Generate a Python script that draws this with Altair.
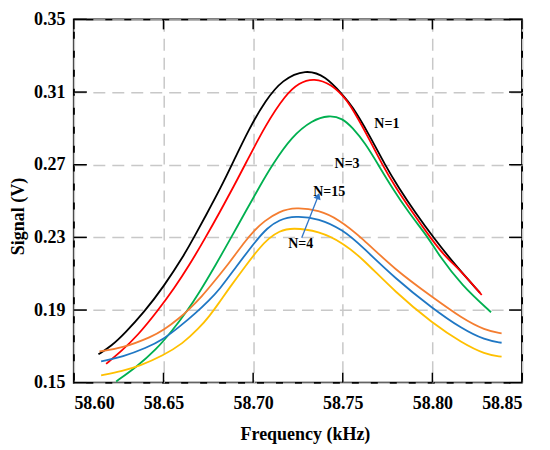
import altair as alt
import pandas as pd

# ---------------- data ----------------
x_ticks = [58.60, 58.65, 58.70, 58.75, 58.80, 58.85]
y_ticks = [0.15, 0.19, 0.23, 0.27, 0.31, 0.35]

series_names = ["black", "red", "green", "orange", "blue", "yellow"]
series_colors = ["#000000", "#FF0000", "#00B050", "#F47D30", "#1F77C4", "#FFC000"]

black_freq = [58.6137, 58.6210, 58.6282, 58.6393, 58.6499, 58.6616, 58.6671, 58.6736, 58.6820,
              58.6884, 58.6977, 58.7070, 58.7162, 58.7293, 58.7404, 58.7500, 58.7550, 58.7645,
              58.7737, 58.7811, 58.7904, 58.8006, 58.8127, 58.8266]
black_sig = [0.1656, 0.1703, 0.1770, 0.1890, 0.2026, 0.2204, 0.2302, 0.2420, 0.2575,
             0.2705, 0.2898, 0.3055, 0.3168, 0.3226, 0.3188, 0.3084, 0.3027, 0.2870,
             0.2696, 0.2575, 0.2437, 0.2298, 0.2148, 0.1994]

red_freq = [58.6180, 58.6265, 58.6356, 58.6467, 58.6560, 58.6643, 58.6736, 58.6810, 58.6894,
            58.6955, 58.7070, 58.7181, 58.7255, 58.7339, 58.7441, 58.7500, 58.7533, 58.7633,
            58.7722, 58.7795, 58.7889, 58.7989, 58.8062, 58.8164, 58.8275]
red_sig = [0.1604, 0.1674, 0.1760, 0.1895, 0.2020, 0.2145, 0.2302, 0.2432, 0.2585,
           0.2700, 0.2920, 0.3085, 0.3150, 0.3178, 0.3140, 0.3078, 0.3043, 0.2870,
           0.2696, 0.2575, 0.2437, 0.2298, 0.2204, 0.2110, 0.1983]

green_freq = [58.6236, 58.6347, 58.6458, 58.6551, 58.6625, 58.6699, 58.6792, 58.6875, 58.6959,
              58.7042, 58.7107, 58.7218, 58.7329, 58.7422, 58.7500, 58.7552, 58.7626, 58.7700,
              58.7774, 58.7867, 58.7978, 58.8034, 58.8164, 58.8327]
green_sig = [0.1507, 0.1585, 0.1681, 0.1790, 0.1885, 0.1995, 0.2150, 0.2295, 0.2445,
             0.2590, 0.2700, 0.2858, 0.2945, 0.2973, 0.2955, 0.2906, 0.2818, 0.2696,
             0.2575, 0.2437, 0.2298, 0.2204, 0.2035, 0.1888]

orange_freq = [58.6143, 58.6273, 58.6438, 58.6499, 58.6588, 58.6643, 58.6717, 58.6764, 58.6866,
               58.6949, 58.7005, 58.7061, 58.7144, 58.7237, 58.7367, 58.7478, 58.7607, 58.7793,
               58.8002, 58.8164, 58.8294, 58.8386]
orange_sig = [0.1672, 0.1691, 0.1755, 0.1788, 0.1855, 0.1904, 0.1979, 0.2035, 0.2158,
              0.2272, 0.2337, 0.2389, 0.2443, 0.2466, 0.2450, 0.2399, 0.2298, 0.2120,
              0.1970, 0.1855, 0.1788, 0.1772]

blue_freq = [58.6152, 58.6273, 58.6403, 58.6499, 58.6588, 58.6681, 58.6755, 58.6810, 58.6903,
             58.7014, 58.7079, 58.7144, 58.7233, 58.7367, 58.7500, 58.7607, 58.7793, 58.8002,
             58.8164, 58.8294, 58.8386]
blue_sig = [0.1618, 0.1643, 0.1691, 0.1739, 0.1807, 0.1884, 0.1955, 0.2010, 0.2135,
            0.2280, 0.2352, 0.2397, 0.2419, 0.2405, 0.2342, 0.2251, 0.2073, 0.1908,
            0.1797, 0.1734, 0.1720]

yellow_freq = [58.6152, 58.6273, 58.6365, 58.6499, 58.6606, 58.6699, 58.6755, 58.6810, 58.6866,
               58.6959, 58.7033, 58.7088, 58.7144, 58.7216, 58.7367, 58.7500, 58.7607, 58.7793,
               58.8002, 58.8164, 58.8294, 58.8386]
yellow_sig = [0.1540, 0.1565, 0.1591, 0.1651, 0.1714, 0.1801, 0.1865, 0.1940, 0.2020,
              0.2145, 0.2240, 0.2296, 0.2334, 0.2354, 0.2335, 0.2270, 0.2186, 0.1998,
              0.1826, 0.1720, 0.1656, 0.1643]

ann_labels = ["N=1", "N=3", "N=15", "N=4"]
ann_freq = [58.7746, 58.7524, 58.7424, 58.7265]
ann_sig = [0.2923, 0.2705, 0.2549, 0.2261]

arrow_from = [58.7271, 0.2298]
arrow_to = [58.7363, 0.2528]
arrow_color = "#2E75C8"

# ---------------- build tables ----------------
all_freq = [black_freq, red_freq, green_freq, orange_freq, blue_freq, yellow_freq]
all_sig = [black_sig, red_sig, green_sig, orange_sig, blue_sig, yellow_sig]
rows = []
for name, fs, vs in zip(series_names, all_freq, all_sig):
    for i, (f, v) in enumerate(zip(fs, vs)):
        rows.append({"series": name, "freq": f, "signal": v, "i": i})
df = pd.DataFrame(rows)

ann_df = pd.DataFrame({"label": ann_labels, "freq": ann_freq, "signal": ann_sig})
arrow_df = pd.DataFrame({"freq": [arrow_from[0]], "signal": [arrow_from[1]],
                         "f2": [arrow_to[0]], "s2": [arrow_to[1]]})
head_df = pd.DataFrame({"freq": [arrow_to[0]], "signal": [arrow_to[1]]})
xt_df = pd.DataFrame({"freq": x_ticks})
yt_df = pd.DataFrame({"signal": y_ticks})

W, H = 449, 364
FONT = "Liberation Serif"
xscale = alt.Scale(domain=[58.60, 58.85], nice=False, zero=False)
yscale = alt.Scale(domain=[0.15, 0.35], nice=False, zero=False)
GRID = dict(grid=True, gridColor="#C8C8C8", gridDash=[12, 7], gridWidth=1.5)
X_AXIS = alt.Axis(orient="bottom", values=x_ticks, format=".2f", title="Frequency (kHz)",
                  tickSize=0, labelPadding=12, titlePadding=13, titleX=W / 2 + 7,
                  domain=False, **GRID)
Y_AXIS = alt.Axis(orient="left", values=y_ticks, format=".2f", title="Signal (V)",
                  tickSize=0, labelPadding=9, titlePadding=6, titleY=H / 2 + 15,
                  domain=False, **GRID)
XENC = alt.X("freq:Q", scale=xscale, axis=X_AXIS)
YENC = alt.Y("signal:Q", scale=yscale, axis=Y_AXIS)

lines = alt.Chart(df).mark_line(interpolate="basis", strokeWidth=1.8).encode(
    x=XENC, y=YENC,
    color=alt.Color("series:N", scale=alt.Scale(domain=series_names, range=series_colors), legend=None),
    order="i:Q",
)

TICK = dict(color="black", strokeWidth=1.5)
ticks_left = alt.Chart(yt_df).mark_rule(**TICK).encode(y=YENC, x=alt.value(0), x2=alt.value(13))
ticks_right = alt.Chart(yt_df).mark_rule(**TICK).encode(y=YENC, x=alt.value(W - 13), x2=alt.value(W))
ticks_bottom = alt.Chart(xt_df).mark_rule(**TICK).encode(x=XENC, y=alt.value(H - 10), y2=alt.value(H))
ticks_top = alt.Chart(xt_df).mark_rule(**TICK).encode(x=XENC, y=alt.value(0), y2=alt.value(10))

ann = alt.Chart(ann_df).mark_text(font=FONT, fontWeight="bold", fontSize=14, color="black").encode(
    x=XENC, y=YENC, text="label:N",
)

arrow = alt.Chart(arrow_df).mark_rule(color=arrow_color, strokeWidth=1.3).encode(
    x=XENC, y=YENC, x2="f2:Q", y2="s2:Q",
)

head = alt.Chart(head_df).mark_point(shape="triangle-up", filled=True, size=55, angle=21,
                                     color=arrow_color, opacity=1).encode(x=XENC, y=YENC)

chart = alt.layer(lines, ticks_left, ticks_right, ticks_bottom, ticks_top, ann, arrow, head).properties(
    width=W, height=H,
    autosize=alt.AutoSizeParams(type="none"),
    padding={"left": 66, "top": 11, "right": 20, "bottom": 66},
    background="white",
).configure_view(
    stroke="black", strokeWidth=2
).configure_axis(
    labelFont=FONT, labelFontWeight="bold", labelFontSize=18, labelColor="black",
    titleFont=FONT, titleFontWeight="bold", titleFontSize=18, titleColor="black",
)

chart.save("out.html", embed_options={"renderer": "svg", "actions": False})
